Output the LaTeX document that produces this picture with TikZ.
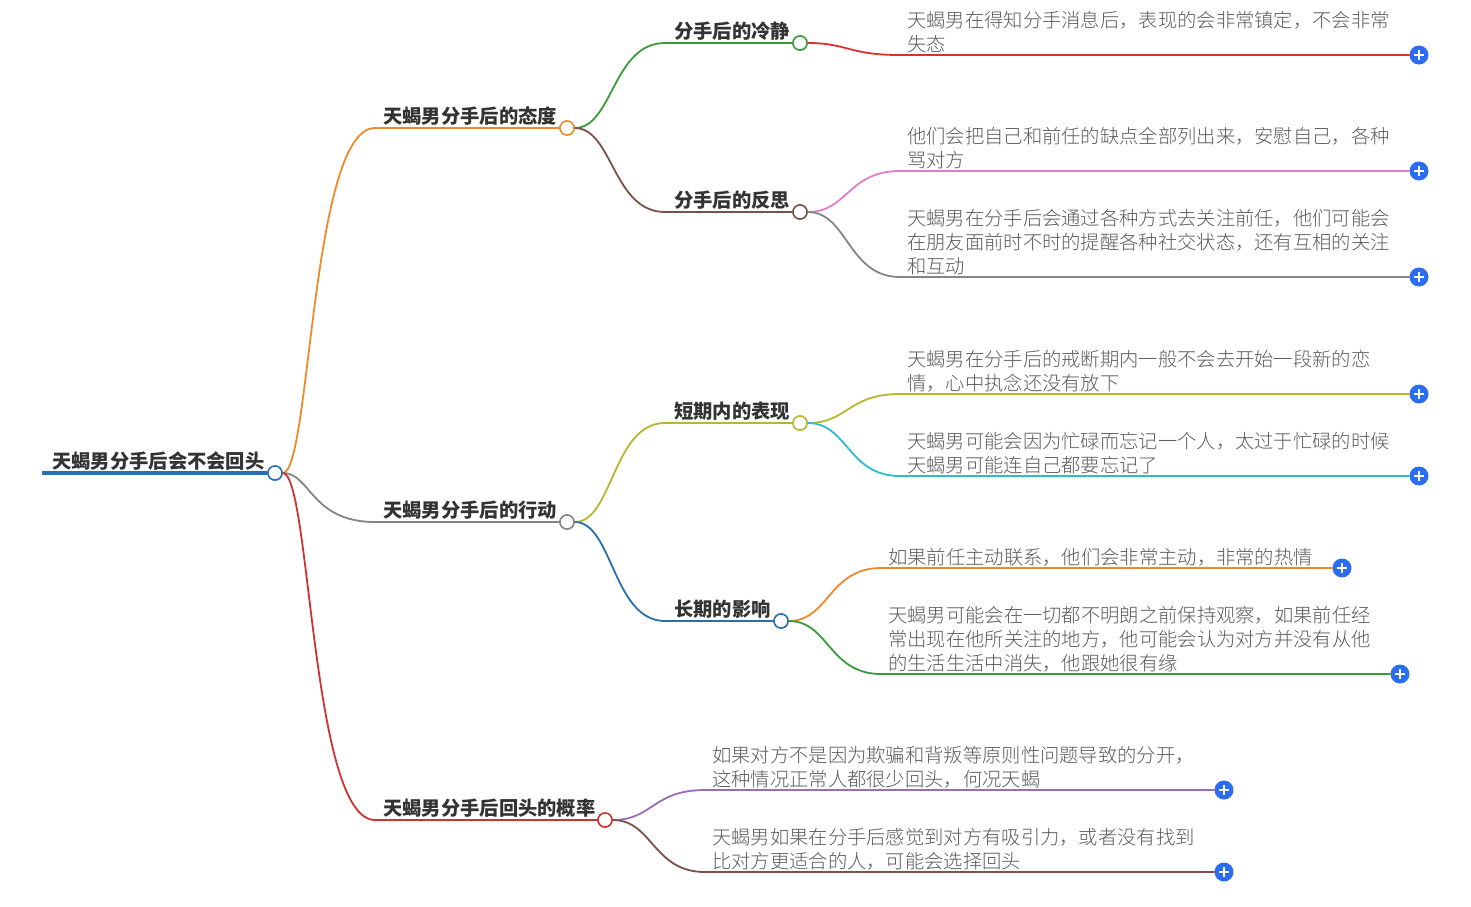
\documentclass[tikz,border=0pt]{standalone}
\usepackage{fontspec}
\newfontfamily\cjk{Noto Sans CJK SC}
\newfontfamily\cjkthin{Noto Sans CJK SC Light}
\usepackage{tikz}
\usetikzlibrary{calc}
\definecolor{Ink}{HTML}{333333}
\definecolor{LeafGrey}{HTML}{5A5A5A}
\definecolor{RootBlue}{HTML}{2B6FB3}
\definecolor{PlusBlue}{HTML}{2A6DF0}
\definecolor{TopicOrange}{HTML}{F0892A}
\definecolor{TopicGrey}{HTML}{858585}
\definecolor{TopicRed}{HTML}{CC3333}
\definecolor{CalmGreen}{HTML}{3A9B3A}
\definecolor{MudBrown}{HTML}{7A5247}
\definecolor{LeafRed}{HTML}{D93030}
\definecolor{LeafPink}{HTML}{E27CC9}
\definecolor{Olive}{HTML}{B5B72E}
\definecolor{Cyan}{HTML}{2DBBD0}
\definecolor{DeepBlue}{HTML}{2A6EAE}
\definecolor{Purple}{HTML}{9A6CC0}

\begin{document}
\begin{tikzpicture}[x=1pt,y=-1pt]
  \path[use as bounding box] (0,0) rectangle (1471,906);
  \tikzset{
    mmDot/.style={
      circle, draw=#1, fill=white, line width=1.5pt,
      minimum size=14pt, inner sep=0pt
    },
    mmEdge/.style={draw=#1, line width=1.8pt, line cap=round},
    mmPlus/.style={
      circle, fill=PlusBlue, minimum size=19pt, inner sep=0pt,
      path picture={
        \draw[white,line width=1.8pt]
          ($(path picture bounding box.center)+(-5pt,0)$) -- ++(10pt,0)
          ($(path picture bounding box.center)+(0,-5pt)$) -- ++(0,10pt);
      }
    },
    mmTopic/.style={
      font=\cjk\bfseries\fontsize{19.3}{24}\selectfont, text=Ink,
      inner sep=0pt, anchor=south west
    },
    mmLeaf/.style={
      font=\cjkthin\fontsize{19.3}{24}\selectfont, text=LeafGrey,
      inner sep=0pt, anchor=south west, align=left
    }
  }

  % 中心主题
  \coordinate (rootIn) at (42,473);
  \node[mmDot=RootBlue] (root) at (275,473) {};
  \node[mmTopic] (rootText) at (52,471) {天蝎男分手后会不会回头};

  % 一级分支
  \coordinate (attIn) at (375,128);
  \coordinate (actIn) at (375,522);
  \coordinate (probIn) at (375,820);
  \node[mmDot=TopicOrange] (att) at (567,128) {};
  \node[mmDot=TopicGrey] (act) at (567,522) {};
  \node[mmDot=TopicRed] (prob) at (605,820) {};
  \node[mmTopic] (attText) at (383,126) {天蝎男分手后的态度};
  \node[mmTopic] (actText) at (383,520) {天蝎男分手后的行动};
  \node[mmTopic] (probText) at (383,818) {天蝎男分手后回头的概率};

  % 二级分支
  \coordinate (calmIn) at (665,43);
  \coordinate (reflIn) at (665,212);
  \coordinate (shortIn) at (665,423);
  \coordinate (longIn) at (665,621);
  \node[mmDot=CalmGreen] (calm) at (800,43) {};
  \node[mmDot=MudBrown] (refl) at (800,212) {};
  \node[mmDot=Olive] (short) at (800,423) {};
  \node[mmDot=DeepBlue] (long) at (781,621) {};
  \node[mmTopic] (calmText) at (674,41) {分手后的冷静};
  \node[mmTopic] (reflText) at (674,210) {分手后的反思};
  \node[mmTopic] (shortText) at (674,421) {短期内的表现};
  \node[mmTopic] (longText) at (674,619) {长期的影响};

  % 叶子
  \coordinate (calmLeafIn) at (900,55);
  \coordinate (reflLeafAIn) at (900,171);
  \coordinate (reflLeafBIn) at (900,277);
  \coordinate (shortLeafAIn) at (900,394);
  \coordinate (shortLeafBIn) at (900,476);
  \coordinate (longLeafAIn) at (881,568);
  \coordinate (longLeafBIn) at (881,674);
  \coordinate (probLeafAIn) at (705,790);
  \coordinate (probLeafBIn) at (705,872);
  \node[mmPlus] (calmPlus) at (1419,55) {};
  \node[mmPlus] (reflPlusA) at (1419,171) {};
  \node[mmPlus] (reflPlusB) at (1419,277) {};
  \node[mmPlus] (shortPlusA) at (1419,394) {};
  \node[mmPlus] (shortPlusB) at (1419,476) {};
  \node[mmPlus] (longPlusA) at (1342,568) {};
  \node[mmPlus] (longPlusB) at (1400,674) {};
  \node[mmPlus] (probPlusA) at (1224,790) {};
  \node[mmPlus] (probPlusB) at (1224,872) {};

  \node[mmLeaf] (calmLeaf) at (907,53)
    {天蝎男在得知分手消息后，表现的会非常镇定，不会非常\\失态};
  \node[mmLeaf] (reflLeafA) at (907,169)
    {他们会把自己和前任的缺点全部列出来，安慰自己，各种\\骂对方};
  \node[mmLeaf] (reflLeafB) at (907,275)
    {天蝎男在分手后会通过各种方式去关注前任，他们可能会\\在朋友面前时不时的提醒各种社交状态，还有互相的关注\\和互动};
  \node[mmLeaf] (shortLeafA) at (907,392)
    {天蝎男在分手后的戒断期内一般不会去开始一段新的恋\\情，心中执念还没有放下};
  \node[mmLeaf] (shortLeafB) at (907,474)
    {天蝎男可能会因为忙碌而忘记一个人，太过于忙碌的时候\\天蝎男可能连自己都要忘记了};
  \node[mmLeaf] (longLeafA) at (888,566)
    {如果前任主动联系，他们会非常主动，非常的热情};
  \node[mmLeaf] (longLeafB) at (888,672)
    {天蝎男可能会在一切都不明朗之前保持观察，如果前任经\\常出现在他所关注的地方，他可能会认为对方并没有从他\\的生活生活中消失，他跟她很有缘};
  \node[mmLeaf] (probLeafA) at (712,788)
    {如果对方不是因为欺骗和背叛等原则性问题导致的分开，\\这种情况正常人都很少回头，何况天蝎};
  \node[mmLeaf] (probLeafB) at (712,870)
    {天蝎男如果在分手后感觉到对方有吸引力，或者没有找到\\比对方更适合的人，可能会选择回头};

  % 连线
  \draw[mmEdge=RootBlue,line width=4.5pt,line cap=butt] (rootIn) -- (root.west);
  \draw[mmEdge=TopicOrange] (root.east) .. controls +(28,0) and ($(root.east|-attIn)+(28,0)$) .. (attIn) -- (att.west);
  \draw[mmEdge=TopicGrey] (root.east) .. controls +(28,0) and ($(root.east|-actIn)+(28,0)$) .. (actIn) -- (act.west);
  \draw[mmEdge=TopicRed] (root.east) .. controls +(28,0) and ($(root.east|-probIn)+(28,0)$) .. (probIn) -- (prob.west);

  \draw[mmEdge=CalmGreen] (att.east) .. controls +(38,0) and ($(att.east|-calmIn)+(38,0)$) .. (calmIn) -- (calm.west);
  \draw[mmEdge=MudBrown] (att.east) .. controls +(38,0) and ($(att.east|-reflIn)+(38,0)$) .. (reflIn) -- (refl.west);
  \draw[mmEdge=Olive] (act.east) .. controls +(38,0) and ($(act.east|-shortIn)+(38,0)$) .. (shortIn) -- (short.west);
  \draw[mmEdge=DeepBlue] (act.east) .. controls +(38,0) and ($(act.east|-longIn)+(38,0)$) .. (longIn) -- (long.west);

  \draw[mmEdge=LeafRed] (calm.east) .. controls +(40,0) and ($(calm.east|-calmLeafIn)+(40,0)$) .. (calmLeafIn) -- (calmPlus.west);
  \draw[mmEdge=LeafPink] (refl.east) .. controls +(40,0) and ($(refl.east|-reflLeafAIn)+(40,0)$) .. (reflLeafAIn) -- (reflPlusA.west);
  \draw[mmEdge=TopicGrey] (refl.east) .. controls +(40,0) and ($(refl.east|-reflLeafBIn)+(40,0)$) .. (reflLeafBIn) -- (reflPlusB.west);
  \draw[mmEdge=Olive] (short.east) .. controls +(40,0) and ($(short.east|-shortLeafAIn)+(40,0)$) .. (shortLeafAIn) -- (shortPlusA.west);
  \draw[mmEdge=Cyan] (short.east) .. controls +(40,0) and ($(short.east|-shortLeafBIn)+(40,0)$) .. (shortLeafBIn) -- (shortPlusB.west);
  \draw[mmEdge=TopicOrange] (long.east) .. controls +(40,0) and ($(long.east|-longLeafAIn)+(40,0)$) .. (longLeafAIn) -- (longPlusA.west);
  \draw[mmEdge=CalmGreen] (long.east) .. controls +(40,0) and ($(long.east|-longLeafBIn)+(40,0)$) .. (longLeafBIn) -- (longPlusB.west);
  \draw[mmEdge=Purple] (prob.east) .. controls +(40,0) and ($(prob.east|-probLeafAIn)+(40,0)$) .. (probLeafAIn) -- (probPlusA.west);
  \draw[mmEdge=MudBrown] (prob.east) .. controls +(40,0) and ($(prob.east|-probLeafBIn)+(40,0)$) .. (probLeafBIn) -- (probPlusB.west);

  % 圆点压在连线之上
  \foreach \dotName/\dotColor in {root/RootBlue,att/TopicOrange,act/TopicGrey,prob/TopicRed,
      calm/CalmGreen,refl/MudBrown,short/Olive,long/DeepBlue}
    \draw[\dotColor,fill=white,line width=1.5pt] (\dotName) circle (7pt);
\end{tikzpicture}
\end{document}
